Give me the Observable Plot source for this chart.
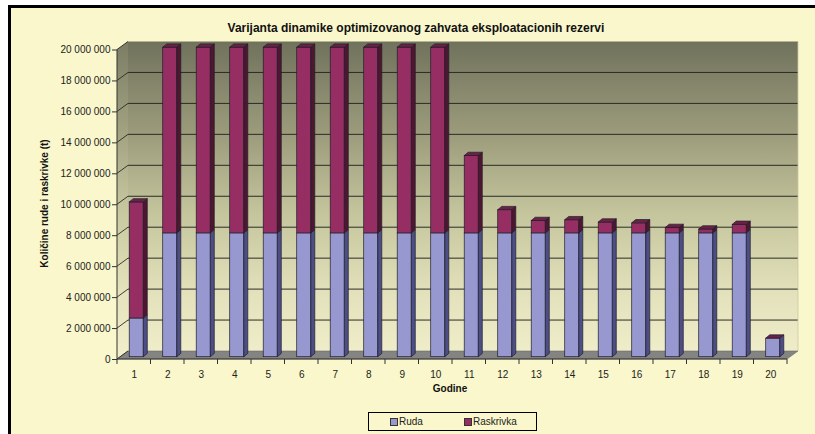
<!DOCTYPE html>
<html>
<head>
<meta charset="utf-8">
<script src="https://cdn.jsdelivr.net/npm/d3@7"></script>
<script src="https://cdn.jsdelivr.net/npm/@observablehq/plot@0.6"></script>
<style>
  html, body { margin: 0; padding: 0; background: #fff; }
  #chart { position: relative; width: 815px; height: 434px; overflow: hidden; background: #fff;
           font-family: "Liberation Sans", Arial, sans-serif; }
  #panel { position: absolute; left: 8px; top: 5px; right: 0; bottom: 0;
           border-left: 3px solid #000; border-top: 3px solid #000; background: #f9f7cb; }
  #plot { position: absolute; left: 0; top: 0; }
  .title { position: absolute; left: 0; width: 832px; top: 21px; text-align: center;
           font-weight: bold; font-size: 12px; color: #111; white-space: nowrap; }
  .xtitle { position: absolute; left: 400px; width: 100px; top: 383px; text-align: center;
            font-weight: bold; font-size: 10px; color: #111; }
  .ytitle { position: absolute; left: -56px; width: 200px; top: 198px; text-align: center;
            font-weight: bold; font-size: 10px; color: #111; transform: rotate(-90deg); white-space: nowrap; }
  #legend { position: absolute; left: 368px; top: 412px; width: 167px; height: 17px;
            border: 1px solid #000; background: #f9f7cb; font-size: 10px; color: #222; }
  #legend .item { position: absolute; top: 3px; line-height: 11px; white-space: nowrap; }
  #legend .sw { display: inline-block; width: 6px; height: 6px; border: 1px solid #333;
                margin-right: 1px; vertical-align: -1px; }
</style>
</head>
<body>
<div id="chart">
  <div id="panel"></div>
  <div class="title">Varijanta dinamike optimizovanog zahvata eksploatacionih rezervi</div>
  <div class="ytitle">Količine rude i raskrivke (t)</div>
  <div class="xtitle">Godine</div>
  <div id="legend"></div>
</div>
<script>
// Production years
const years = ["1", "2", "3", "4", "5", "6", "7", "8", "9", "10",
               "11", "12", "13", "14", "15", "16", "17", "18", "19", "20"];

// Ore (Ruda), tonnes per year
const ruda = [2500000, 8000000, 8000000, 8000000, 8000000, 8000000, 8000000, 8000000, 8000000, 8000000,
              8000000, 8000000, 8000000, 8000000, 8000000, 8000000, 8000000, 8000000, 8000000, 1200000];

// Overburden (Raskrivka), tonnes per year
const raskrivka = [7500000, 12000000, 12000000, 12000000, 12000000, 12000000, 12000000, 12000000, 12000000, 12000000,
                   5000000, 1500000, 800000, 850000, 700000, 650000, 350000, 250000, 550000, 0];

const seriesNames = ["Ruda", "Raskrivka"];
const yTicks = [0, 2000000, 4000000, 6000000, 8000000, 10000000, 12000000, 14000000, 16000000, 18000000, 20000000];

// Face colours of the 3D columns: front, side, top
const shades = {
  Ruda:      {front: "#9898d0", side: "#4e4e86", top: "#6c6ca4"},
  Raskrivka: {front: "#962e64", side: "#4f1632", top: "#6b2148"}
};

// Depth of the 3D box (pixels) and placement of the columns inside it
const DEPTH_X = 11, DEPTH_Y = -8;
const BAR_OFF_X = 2.5, BAR_OFF_Y = -2.3;
const BAR_DX = 4, BAR_DY = -3.3;
const BAR_FRAC = 0.42;

function scene(index, scales) {
  const {x, y} = scales;
  const step = x(years[1]) - x(years[0]);
  const xL = x(years[0]);
  const xR = x(years[years.length - 1]) + step;
  const yMax = yTicks[yTicks.length - 1];
  const yB = y(0), yT = y(yMax);
  const g = d3.create("svg:g");

  const grad = g.append("defs").append("linearGradient")
    .attr("id", "wallGrad").attr("gradientUnits", "userSpaceOnUse")
    .attr("x1", 0).attr("x2", 0).attr("y1", yT + DEPTH_Y).attr("y2", yB);
  [[0, "#71725c"], [0.3, "#9d9d7d"], [0.55, "#c6c69e"], [0.8, "#e3e2bc"], [1, "#f1efcb"]]
    .forEach(([o, c]) => grad.append("stop").attr("offset", o).attr("stop-color", c));

  const poly = pts => pts.map(p => p.join(",")).join(" ");

  // back wall
  g.append("rect")
    .attr("x", xL + DEPTH_X).attr("y", yT + DEPTH_Y)
    .attr("width", xR - xL).attr("height", yB - yT)
    .attr("fill", "url(#wallGrad)");
  // left side wall
  g.append("polygon")
    .attr("points", poly([[xL, yT], [xL + DEPTH_X, yT + DEPTH_Y], [xL + DEPTH_X, yB + DEPTH_Y], [xL, yB]]))
    .attr("fill", "url(#wallGrad)").attr("opacity", 0.92);
  // floor
  g.append("polygon")
    .attr("points", poly([[xL, yB], [xL + DEPTH_X, yB + DEPTH_Y], [xR + DEPTH_X, yB + DEPTH_Y], [xR, yB]]))
    .attr("fill", "#848482").attr("stroke", "#6a6a68").attr("stroke-width", 0.6);

  // gridlines: diagonal on the side wall, horizontal on the back wall
  yTicks.forEach(t => {
    const yy = y(t);
    g.append("line")
      .attr("x1", xL).attr("y1", yy).attr("x2", xL + DEPTH_X).attr("y2", yy + DEPTH_Y)
      .attr("stroke", "#2a2a26").attr("stroke-width", 0.9);
    if (t > 0 && t < yMax) {
      g.append("line")
        .attr("x1", xL + DEPTH_X).attr("y1", yy + DEPTH_Y).attr("x2", xR + DEPTH_X).attr("y2", yy + DEPTH_Y)
        .attr("stroke", "#2a2a26").attr("stroke-width", 1);
    }
  });
  // light right edge of the wall
  g.append("line").attr("x1", xR + DEPTH_X).attr("y1", yT + DEPTH_Y).attr("x2", xR + DEPTH_X).attr("y2", yB + DEPTH_Y)
    .attr("stroke", "#c9c8a6").attr("stroke-width", 0.8);

  // axis lines and category ticks
  g.append("line").attr("x1", xL).attr("y1", yT).attr("x2", xL).attr("y2", yB + 5)
    .attr("stroke", "#333").attr("stroke-width", 1);
  g.append("line").attr("x1", xL).attr("y1", yB).attr("x2", xR).attr("y2", yB)
    .attr("stroke", "#333").attr("stroke-width", 1);
  years.forEach(yr => {
    const xx = x(yr) + step;
    g.append("line").attr("x1", xx).attr("y1", yB).attr("x2", xx).attr("y2", yB + 5)
      .attr("stroke", "#333").attr("stroke-width", 1);
  });

  // stacked 3D columns
  const barW = step * BAR_FRAC;
  years.forEach((yr, i) => {
    const segs = [["Ruda", 0, ruda[i]], ["Raskrivka", ruda[i], ruda[i] + raskrivka[i]]];
    const bx0 = x(yr) + (step - barW) / 2 + BAR_OFF_X;
    const bx1 = bx0 + barW;
    segs.forEach(([name, lo, hi], k) => {
      const c = shades[name];
      const yTop = y(hi) + BAR_OFF_Y, yBot = y(lo) + BAR_OFF_Y;
      if (hi > lo) {
        g.append("rect").attr("x", bx0).attr("y", yTop).attr("width", barW).attr("height", yBot - yTop)
          .attr("fill", c.front).attr("stroke", "#1e1e28").attr("stroke-width", 0.7);
        g.append("polygon")
          .attr("points", poly([[bx1, yBot], [bx1, yTop], [bx1 + BAR_DX, yTop + BAR_DY], [bx1 + BAR_DX, yBot + BAR_DY]]))
          .attr("fill", c.side).attr("stroke", "#1e1e28").attr("stroke-width", 0.7);
      }
      if (k === segs.length - 1) {
        g.append("polygon")
          .attr("points", poly([[bx0, yTop], [bx1, yTop], [bx1 + BAR_DX, yTop + BAR_DY], [bx0 + BAR_DX, yTop + BAR_DY]]))
          .attr("fill", c.top).attr("stroke", "#1e1e28").attr("stroke-width", 0.7);
      }
    });
  });
  return g.node();
}

const plot = Plot.plot({
  width: 815,
  height: 434,
  marginLeft: 117,
  marginRight: 28,
  marginTop: 49.5,
  marginBottom: 75,
  style: {background: "transparent", fontFamily: "'Liberation Sans', Arial, sans-serif", fontSize: "10px", color: "#222", overflow: "visible"},
  x: {type: "band", domain: years, padding: 0, round: false},
  y: {domain: [0, yTicks[yTicks.length - 1]]},
  marks: [
    scene,
    Plot.axisY(yTicks, {tickSize: 5, tickPadding: 2, tickFormat: d => d3.format(",")(d).replace(/,/g, " "), label: null, stroke: "#333"}),
    Plot.axisX({tickSize: 0, tickPadding: 11, label: null})
  ]
});
plot.id = "plot";
document.getElementById("chart").insertBefore(plot, document.querySelector(".title"));

// legend
const legend = document.getElementById("legend");
const legendX = [21, 95];
seriesNames.forEach((name, i) => {
  const item = document.createElement("span");
  item.className = "item";
  item.style.left = legendX[i] + "px";
  const sw = document.createElement("span");
  sw.className = "sw";
  sw.style.background = shades[name].front;
  item.appendChild(sw);
  item.appendChild(document.createTextNode(name));
  legend.appendChild(item);
});
</script>
</body>
</html>
